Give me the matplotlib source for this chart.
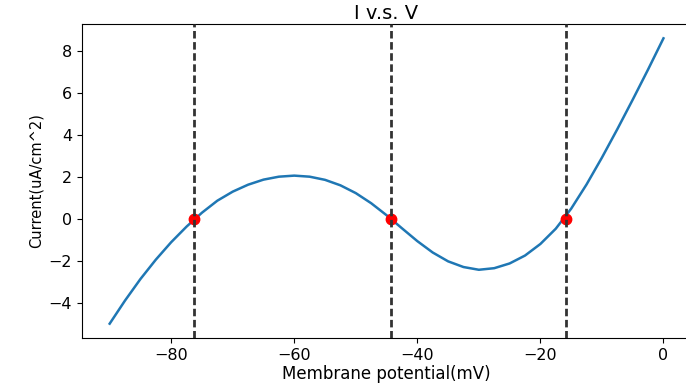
import matplotlib
matplotlib.use("Agg")
import matplotlib.pyplot as plt

# membrane potential (mV) and current
voltage = [-90, -87.5, -85, -82.5, -80, -77.5, -75, -72.5, -70, -67.5, -65,
           -62.5, -60, -57.5, -55, -52.5, -50, -47.5, -45, -42.5, -40, -37.5,
           -35, -32.5, -30, -27.5, -25, -22.5, -20, -17.5, -15, -12.5, -10,
           -7.5, -5, -2.5, 0]
current = [-4.97, -3.87, -2.85, -1.93, -1.10, -0.36, 0.30, 0.87, 1.30, 1.63, 1.87,
           2.01, 2.06, 2.01, 1.86, 1.60, 1.23, 0.75, 0.18, -0.44, -1.05, -1.59,
           -2.01, -2.28, -2.41, -2.335, -2.11, -1.735, -1.185, -0.46, 0.49, 1.64, 2.915,
           4.265, 5.665, 7.10, 8.58]

# fixed points (zero crossings)
fixed_v = [-76.3, -44.3, -15.9]
fixed_i = [0, 0, 0]

fig = plt.figure(figsize=(6.86, 3.88), dpi=100)
ax = fig.add_axes([0.1195, 0.129, 0.888, 0.809])

ax.plot(voltage, current, color='#1f77b4', lw=1.8)
ax.plot(fixed_v, fixed_i, 'o', color='red', markersize=7.5, zorder=3)
for v in fixed_v:
    ax.axvline(v, color='#333333', lw=2, linestyle=(0, (2.7, 1.3)), zorder=4)

ax.set_xticks([-80, -60, -40, -20, 0])
ax.set_yticks([-4, -2, 0, 2, 4, 6, 8])
ax.tick_params(labelsize=11.5)
ax.set_xlabel('Membrane potential(mV)', fontsize=12, labelpad=2)
ax.set_ylabel('Current(uA/cm^2)', fontsize=10.5)
ax.set_title('I v.s. V', fontsize=14, pad=4)

fig.savefig('out.png', dpi=100)
